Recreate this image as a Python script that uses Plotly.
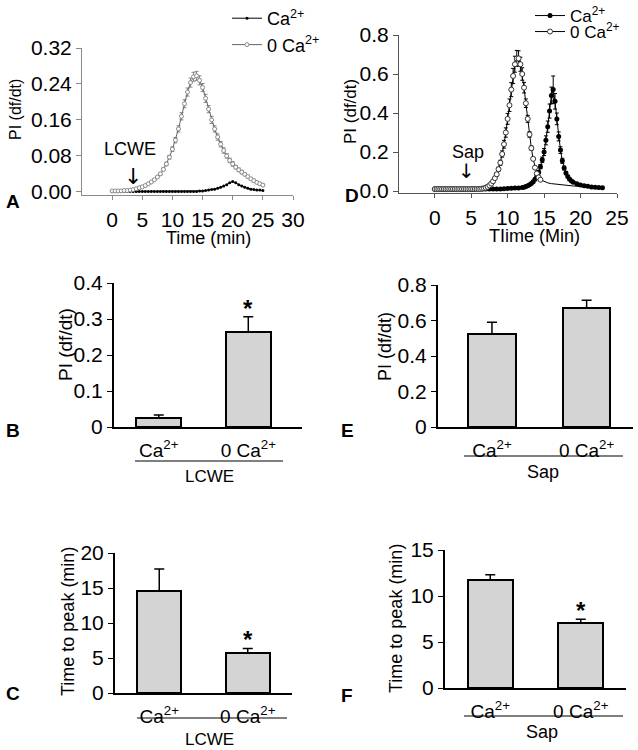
import plotly.graph_objects as go

W, H = 638, 750
FONT = "Arial, Liberation Sans, Helvetica, sans-serif"

# ---------------- data ----------------
# Panel A (LCWE time course)
tA = [0, 0.5, 1, 1.5, 2, 2.5, 3, 3.5, 4, 4.5, 5, 5.5, 6, 6.5, 7, 7.5, 8, 8.5, 9, 9.5,
      10, 10.5, 11, 11.5, 12, 12.5, 13, 13.5, 14, 14.5, 15, 15.5, 16, 16.5, 17, 17.5,
      18, 18.5, 19, 19.5, 20, 20.5, 21, 21.5, 22, 22.5, 23, 23.5, 24, 24.5, 25]
A_zero_ca = [0.002, 0.002, 0.002, 0.002, 0.003, 0.003, 0.004, 0.005, 0.007, 0.009,
             0.011, 0.014, 0.018, 0.022, 0.027, 0.033, 0.040, 0.050, 0.062, 0.077,
             0.095, 0.115, 0.140, 0.168, 0.196, 0.222, 0.243, 0.256, 0.258, 0.248,
             0.232, 0.208, 0.184, 0.160, 0.140, 0.122, 0.106, 0.092, 0.080, 0.070,
             0.062, 0.055, 0.049, 0.044, 0.039, 0.034, 0.029, 0.025, 0.021, 0.018, 0.015]
A_zero_ca_err = [0.001] * 14 + [0.002, 0.002, 0.003, 0.003, 0.004, 0.004, 0.005, 0.006,
                 0.007, 0.008, 0.009, 0.009, 0.010, 0.010, 0.010, 0.010, 0.009, 0.009,
                 0.008, 0.008, 0.007, 0.007, 0.006, 0.006, 0.005, 0.005, 0.005, 0.004,
                 0.004, 0.004, 0.003, 0.003, 0.003, 0.003, 0.002, 0.002, 0.002]
A_ca = [0.001] * 29 + [0.002, 0.002, 0.003, 0.004, 0.005, 0.006, 0.008, 0.010, 0.013,
                       0.016, 0.020, 0.023, 0.020, 0.016, 0.013, 0.010, 0.008, 0.006,
                       0.005, 0.004, 0.004, 0.003]

# Panel D (Sap time course)
tD_zero = [0, 0.25, 0.5, 0.75, 1, 1.25, 1.5, 1.75, 2, 2.25, 2.5, 2.75, 3, 3.25, 3.5, 3.75,
           4, 4.25, 4.5, 4.75, 5, 5.25, 5.5, 5.75, 6, 6.25, 6.5, 6.75, 7, 7.25, 7.5, 7.75,
           8, 8.25, 8.5, 8.75, 9, 9.25, 9.5, 9.75, 10, 10.25, 10.5, 10.75, 11, 11.25, 11.5,
           11.75, 12, 12.25, 12.5, 12.75, 13, 13.25, 13.5, 13.75, 14, 14.25, 14.5]
D_zero_ca = [0.010] * 25 + [0.011, 0.012, 0.014, 0.017, 0.022, 0.029, 0.038, 0.050, 0.066,
             0.086, 0.112, 0.145, 0.19, 0.24, 0.30, 0.37, 0.44, 0.52, 0.59, 0.65, 0.68,
             0.68, 0.65, 0.60, 0.53, 0.45, 0.37, 0.29, 0.22, 0.165, 0.12, 0.09, 0.07, 0.058]
D_zero_ca_err = [0.002] * 25 + [0.002, 0.002, 0.002, 0.002, 0.003, 0.003, 0.004, 0.005,
                 0.006, 0.008, 0.010, 0.013, 0.016, 0.02, 0.024, 0.028, 0.032, 0.036,
                 0.039, 0.041, 0.041, 0.039, 0.036, 0.032, 0.027, 0.022, 0.018, 0.014,
                 0.011, 0.008, 0.006, 0.005, 0.004, 0.004]
tD_tail = [14.5, 15, 15.5, 16, 17, 18, 19, 20, 21, 22]
D_zero_tail = [0.058, 0.048, 0.042, 0.038, 0.033, 0.029, 0.026, 0.023, 0.021, 0.019]

tD_ca = [0, 0.5, 1, 1.5, 2, 2.5, 3, 3.5, 4, 4.5, 5, 5.5, 6, 6.5, 7, 7.5, 8, 8.5, 9, 9.5,
         10, 10.5, 11, 11.5, 12, 12.25, 12.5, 12.75, 13, 13.25, 13.5, 13.75, 14, 14.25,
         14.5, 14.75, 15, 15.25, 15.5, 15.75, 16, 16.25, 16.5, 16.75, 17, 17.25, 17.5,
         17.75, 18, 18.25, 18.5, 18.75, 19, 19.5, 20, 20.5, 21, 21.5, 22, 22.5, 23]
D_ca = [0.010] * 18 + [0.011, 0.012, 0.013, 0.014, 0.015, 0.016, 0.018,
        0.020, 0.023, 0.027, 0.032, 0.039, 0.048, 0.060, 0.076, 0.097, 0.125, 0.16, 0.20,
        0.26, 0.33, 0.41, 0.49, 0.52, 0.46, 0.37, 0.28, 0.21, 0.155, 0.118, 0.092, 0.074,
        0.061, 0.052, 0.045,
        0.037, 0.031, 0.027, 0.024, 0.021, 0.019, 0.018, 0.017]
D_ca_err = [0.002] * 25 + [0.002, 0.002, 0.003, 0.003, 0.004, 0.005, 0.006, 0.007, 0.009,
            0.011, 0.014, 0.018, 0.023, 0.029, 0.036, 0.043, 0.07, 0.04, 0.03, 0.023,
            0.017, 0.013, 0.01, 0.008, 0.006, 0.005, 0.004, 0.004] + [0.003] * 8

# Bar panels
bar_pos = [0, 1]
bar_labels = ["Ca<sup>2+</sup>", "0 Ca<sup>2+</sup>"]
B_vals, B_err = [0.025, 0.263], [0.008, 0.043]
E_vals, E_err = [0.522, 0.672], [0.068, 0.042]
C_vals, C_err = [14.6, 5.67], [3.1, 0.7]
F_vals, F_err = [11.7, 7.03], [0.6, 0.44]

A_ticks_y = [0, 0.08, 0.16, 0.24, 0.32]
A_ticks_x = [0, 5, 10, 15, 20, 25, 30]
D_ticks_y = [0, 0.2, 0.4, 0.6, 0.8]
D_ticks_x = [0, 5, 10, 15, 20, 25]


def px(x):
    return x / W


def py(y):
    return 1 - y / H


fig = go.Figure()

# ---- Panel A traces ----
fig.add_trace(go.Scatter(
    x=tA, y=A_ca, mode="lines+markers", name="Ca<sup>2+</sup>",
    line=dict(color="black", width=1), marker=dict(size=3, color="black"),
    xaxis="x", yaxis="y", legend="legend"))
fig.add_trace(go.Scatter(
    x=tA, y=A_zero_ca, mode="lines+markers", name="0 Ca<sup>2+</sup>",
    line=dict(color="#666666", width=1),
    marker=dict(size=4, color="white", line=dict(color="#888888", width=1)),
    error_y=dict(type="data", array=A_zero_ca_err, color="#888888", thickness=1, width=2),
    xaxis="x", yaxis="y", legend="legend"))

# ---- Panel D traces ----
fig.add_trace(go.Scatter(
    x=tD_tail, y=D_zero_tail, mode="lines", showlegend=False,
    line=dict(color="black", width=1), xaxis="x2", yaxis="y2"))
fig.add_trace(go.Scatter(
    x=tD_ca, y=D_ca, mode="lines+markers", name="Ca<sup>2+</sup>",
    line=dict(color="black", width=1), marker=dict(size=5, color="black"),
    error_y=dict(type="data", array=D_ca_err, color="black", thickness=1, width=2),
    xaxis="x2", yaxis="y2", legend="legend2"))
fig.add_trace(go.Scatter(
    x=tD_zero, y=D_zero_ca, mode="lines+markers", name="0 Ca<sup>2+</sup>",
    line=dict(color="black", width=1),
    marker=dict(size=5, color="white", line=dict(color="#333333", width=1)),
    error_y=dict(type="data", array=D_zero_ca_err, color="black", thickness=1, width=2),
    xaxis="x2", yaxis="y2", legend="legend3"))

# ---- Bar panels ----
bar_specs = [("x3", "y3", B_vals, B_err), ("x4", "y4", E_vals, E_err),
             ("x5", "y5", C_vals, C_err), ("x6", "y6", F_vals, F_err)]
for xa, ya, vals, err in bar_specs:
    fig.add_trace(go.Bar(
        x=bar_pos, y=vals, width=0.5, showlegend=False,
        marker=dict(color="#d4d4d4", line=dict(color="black", width=2)),
        error_y=dict(type="data", symmetric=False, array=err, arrayminus=[0, 0],
                     color="black", thickness=1.5, width=5),
        xaxis=xa, yaxis=ya))

tickfont = dict(family=FONT, size=21, color="black")

common_line = dict(showgrid=False, zeroline=False, showline=True, ticks="outside",
                   tickfont=tickfont, automargin=False)

layout = dict(
    width=W, height=H, margin=dict(l=0, r=0, t=0, b=0, autoexpand=False),
    paper_bgcolor="white", plot_bgcolor="rgba(0,0,0,0)",
    font=dict(family=FONT, color="black"),
    bargap=0,
    # Panel A
    xaxis=dict(domain=[px(82), px(293)], range=[-5, 30], anchor="y",
               tickvals=A_ticks_x, ticklen=4, linecolor="#8a8a8a", tickcolor="#8a8a8a",
               linewidth=1, ticklabelstandoff=2, **common_line),
    yaxis=dict(domain=[py(195), py(48)], range=[-0.007, 0.32], anchor="x",
               tickvals=A_ticks_y, tickformat=".2f", ticklen=5, linecolor="#8a8a8a",
               tickcolor="#8a8a8a", linewidth=1, **common_line),
    # Panel D
    xaxis2=dict(domain=[px(399), px(617)], range=[-4.9, 25], anchor="y2",
                tickvals=D_ticks_x, ticklen=4, linecolor="#555555", tickcolor="#555555",
                linewidth=1, ticklabelstandoff=2, **common_line),
    yaxis2=dict(domain=[py(193), py(35)], range=[-0.01, 0.8], anchor="x2",
                tickvals=D_ticks_y, tickformat=".1f", ticklen=5, linecolor="#555555",
                tickcolor="#555555", linewidth=1, **common_line),
)

bar_axes = [
    ("xaxis3", "yaxis3", "x3", "y3", [114, 302], [427, 283], [-0.5, 1.6], [0, 0.4], [0, 0.1, 0.2, 0.3, 0.4]),
    ("xaxis4", "yaxis4", "x4", "y4", [438, 633], [427, 285], [-0.57, 1.49], [0, 0.8], [0, 0.2, 0.4, 0.6, 0.8]),
    ("xaxis5", "yaxis5", "x5", "y5", [115, 292], [693, 553], [-0.5, 1.5], [0, 20], [0, 5, 10, 15, 20]),
    ("xaxis6", "yaxis6", "x6", "y6", [445, 626], [688, 550], [-0.5, 1.5], [0, 15], [0, 5, 10, 15]),
]
for xk, yk, xr, yr, xd, yd, xrange_, yrange_, yt in bar_axes:
    layout[xk] = dict(domain=[px(xd[0]), px(xd[1])], range=xrange_, anchor=yr,
                      tickvals=bar_pos, ticktext=bar_labels, ticks="outside", ticklen=5,
                      tickcolor="rgba(0,0,0,0)", showgrid=False, zeroline=False,
                      showline=True, linecolor="black", linewidth=2, automargin=False,
                      tickfont=dict(family=FONT, size=19, color="black"))
    layout[yk] = dict(domain=[py(yd[0]), py(yd[1])], range=yrange_, anchor=xr,
                      tickvals=yt, ticklen=5, tickcolor="black", linecolor="black",
                      linewidth=2, **common_line)

layout["legend"] = dict(x=px(227), y=py(0), xanchor="left", yanchor="top",
                        font=dict(family=FONT, size=18, color="black"),
                        bgcolor="rgba(0,0,0,0)", tracegroupgap=0, itemwidth=30)
layout["legend2"] = dict(x=px(530), y=py(-2), xanchor="left", yanchor="top",
                         font=dict(family=FONT, size=17, color="black"),
                         bgcolor="rgba(0,0,0,0)", tracegroupgap=0, itemwidth=30)
layout["legend3"] = dict(x=px(530), y=py(14), xanchor="left", yanchor="top",
                         font=dict(family=FONT, size=17, color="black"),
                         bgcolor="rgba(0,0,0,0)", tracegroupgap=0, itemwidth=30)

fig.update_layout(**layout)


def ann(text, x, y, size=17, bold=False, angle=0):
    fig.add_annotation(text=("<b>%s</b>" % text) if bold else text,
                       x=px(x), y=py(y), xref="paper", yref="paper",
                       showarrow=False, textangle=angle, xanchor="center", yanchor="middle",
                       font=dict(family=FONT, size=size, color="black"))


# Panel letters
ann("A", 13, 201, 19, True)
ann("B", 13, 430, 19, True)
ann("C", 13, 693, 19, True)
ann("D", 352, 195, 19, True)
ann("E", 347, 430, 19, True)
ann("F", 347, 695, 19, True)

# Axis titles
ann("PI (df/dt)", 15, 110, 16, angle=-90)
ann("PI (df/dt)", 351, 112, 17, angle=-90)
ann("PI (df/dt)", 65, 345, 19, angle=-90)
ann("PI (df/dt)", 385, 347, 18, angle=-90)
ann("Time to peak (min)", 68, 622, 18, angle=-90)
ann("Time to peak (min)", 396, 619, 18, angle=-90)
ann("Time (min)", 208, 238, 18)
ann("TIime (Min)", 534, 236, 18)

# Group labels under bars
ann("LCWE", 209, 476, 17)
ann("Sap", 543, 472, 18)
ann("LCWE", 209, 739, 17)
ann("Sap", 542, 732, 18)

for x0, x1, y in [(135, 283, 461), (464, 623, 456), (137, 287, 718), (464, 623, 716)]:
    fig.add_shape(type="line", xref="paper", yref="paper", x0=px(x0), x1=px(x1),
                  y0=py(y), y1=py(y), line=dict(color="black", width=1.2))

# Stimulus arrows
fig.add_annotation(text="LCWE", x=3.0, y=0.068, xref="x", yref="y", showarrow=False,
                   yanchor="bottom", font=dict(family=FONT, size=18, color="black"))
fig.add_annotation(text="↓", x=3.5, y=0.003, xref="x", yref="y", showarrow=False,
                   yanchor="bottom", font=dict(family="DejaVu Sans", size=22, color="black"))
fig.add_annotation(text="Sap", x=4.6, y=0.14, xref="x2", yref="y2", showarrow=False,
                   yanchor="bottom", font=dict(family=FONT, size=18, color="black"))
fig.add_annotation(text="↓", x=4.4, y=0.03, xref="x2", yref="y2", showarrow=False,
                   yanchor="bottom", font=dict(family="DejaVu Sans", size=20, color="black"))

# Significance stars
for xr, yr, i, vals, err in [("x3", "y3", 1, B_vals, B_err), ("x5", "y5", 1, C_vals, C_err),
                             ("x6", "y6", 1, F_vals, F_err)]:
    fig.add_annotation(text="<b>*</b>", x=bar_pos[i], y=vals[i] + err[i], xref=xr, yref=yr,
                       showarrow=False, yanchor="bottom", yshift=-7,
                       font=dict(family=FONT, size=24, color="black"))

fig.write_html("out.html", config={"displayModeBar": False},
               post_script="document.body.style.margin='0';")
